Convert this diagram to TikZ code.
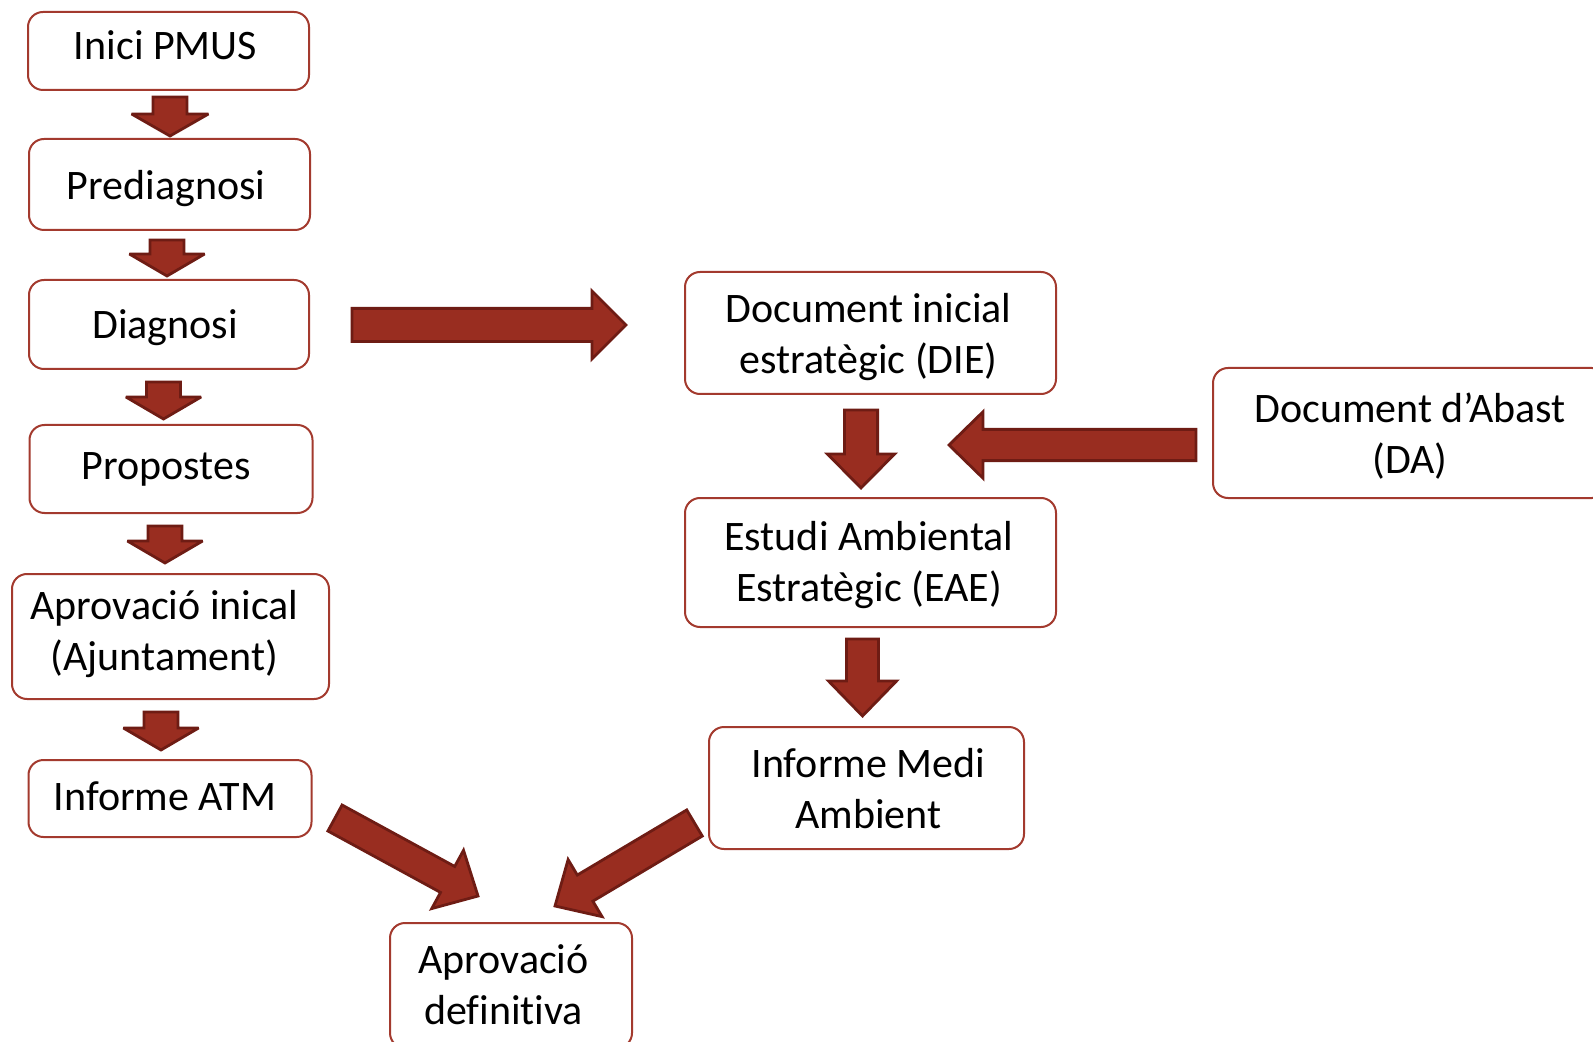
\documentclass[tikz,border=0pt]{standalone}
\usepackage{fontspec}
\setmainfont{Carlito}[Ligatures=NoCommon]
\usetikzlibrary{calc}
\definecolor{boxline}{HTML}{A33A2E}
\definecolor{arrfill}{HTML}{992D20}
\definecolor{arrline}{HTML}{6E1C14}
\tikzset{
  stepbox/.style={draw=boxline, line width=1pt, rounded corners=7.5pt, fill=white,
    align=center, inner sep=0pt, font=\fontsize{21}{25.5}\selectfont},
  barrow/.style={fill=arrfill, draw=arrline, line width=1.4pt, line join=miter, miter limit=3}
}
% #1 horizontal shift, #2 raise of last baseline, #3 lines
\newcommand{\boxtext}[3]{\hspace*{#1}\smash{\raisebox{#2}{\begin{tabular}[b]{@{}c@{}}#3\end{tabular}}}\hspace*{-#1}}
% #1 tail, #2 tip, #3 shaft half width, #4 head half width, #5 head length
\newcommand{\blockarr}[5]{%
  \coordinate (bah) at ($(#2)!#5!(#1)$);
  \draw[barrow] ($(#1)!#3!90:(#2)$) -- ($(bah)!#3!-90:(#1)$) -- ($(bah)!#4!-90:(#1)$)
    -- (#2) -- ($(bah)!#4!90:(#1)$) -- ($(bah)!#3!90:(#1)$) -- ($(#1)!#3!-90:(#2)$) -- cycle;}
\begin{document}
\begin{tikzpicture}[x=0.5pt, y=-0.5pt]
\useasboundingbox (0,0) rectangle (1593,1042);
% left column
\node[stepbox, minimum width=140.5pt, minimum height=39pt] (inici) at (168.5,51) {\boxtext{-1.5pt}{-4.5pt}{Inici PMUS}};
\node[stepbox, minimum width=140.5pt, minimum height=45.5pt] (prediag) at (169.5,184.5) {\boxtext{-1.75pt}{-7.75pt}{Prediagnosi}};
\node[stepbox, minimum width=140pt, minimum height=44.5pt] (diag) at (169,324.5) {\boxtext{-2pt}{-6.9pt}{Diagnosi}};
\node[stepbox, minimum width=141.5pt, minimum height=44pt] (prop) at (171,469) {\boxtext{-2.5pt}{-5pt}{Propostes}};
\node[stepbox, minimum width=158.5pt, minimum height=62.5pt] (aprov) at (170.5,636.5) {\boxtext{-3pt}{-17.2pt}{Aprovació inical\\(Ajuntament)}};
\node[stepbox, minimum width=141.5pt, minimum height=38.5pt] (atm) at (170,798.5) {\boxtext{-2.5pt}{-5.75pt}{Informe ATM}};
\node[stepbox, minimum width=121pt, minimum height=62.5pt] (def) at (511,985.5) {\boxtext{-3.75pt}{-19.4pt}{Aprovació\\definitiva}};
% right column
\node[stepbox, minimum width=185.5pt, minimum height=61pt] (die) at (870.5,333) {\boxtext{-1pt}{-20.5pt}{Document inicial\\estratègic (DIE)}};
\node[stepbox, minimum width=197pt, minimum height=65pt] (da) at (1410,433) {\boxtext{0pt}{-20.25pt}{Document d’Abast\\(DA)}};
\node[stepbox, minimum width=185.5pt, minimum height=64.5pt] (eae) at (870.5,562.5) {\boxtext{-0.75pt}{-19.5pt}{Estudi Ambiental\\Estratègic (EAE)}};
\node[stepbox, minimum width=157.5pt, minimum height=61pt] (medi) at (866.5,788) {\boxtext{0.9pt}{-20.25pt}{Informe Medi\\Ambient}};
% arrow end points
\coordinate (a1t) at (170,97);    \coordinate (a1h) at (170,136);
\coordinate (a2t) at (167,240);   \coordinate (a2h) at (167,276);
\coordinate (a3t) at (163.5,382); \coordinate (a3h) at (163.5,419);
\coordinate (a4t) at (165,526);   \coordinate (a4h) at (165,563);
\coordinate (a5t) at (161,712);   \coordinate (a5h) at (161,750);
\coordinate (b1t) at (352,325);   \coordinate (b1h) at (626,325);
\coordinate (b2t) at (861,410);   \coordinate (b2h) at (861,488);
\coordinate (b3t) at (1196,445);  \coordinate (b3h) at (949,445);
\coordinate (b4t) at (862.5,639); \coordinate (b4h) at (862.5,716);
\coordinate (b5t) at (335,818);   \coordinate (b5h) at (478,896);
\coordinate (b6t) at (694.5,823); \coordinate (b6h) at (555,906);
\blockarr{a1t}{a1h}{8.5pt}{19.2pt}{11pt}
\blockarr{a2t}{a2h}{8.5pt}{18.8pt}{11pt}
\blockarr{a3t}{a3h}{8.5pt}{18.8pt}{11pt}
\blockarr{a4t}{a4h}{8.5pt}{18.8pt}{11pt}
\blockarr{a5t}{a5h}{8.5pt}{18.8pt}{11pt}
\blockarr{b1t}{b1h}{8.3pt}{17pt}{17pt}
\blockarr{b2t}{b2h}{8.3pt}{16.8pt}{17pt}
\blockarr{b3t}{b3h}{7.8pt}{16.6pt}{17pt}
\blockarr{b4t}{b4h}{8pt}{17pt}{17.5pt}
\blockarr{b5t}{b5h}{7.4pt}{16.6pt}{17.3pt}
\blockarr{b6t}{b6h}{7.6pt}{16.6pt}{17.5pt}
\end{tikzpicture}
\end{document}
